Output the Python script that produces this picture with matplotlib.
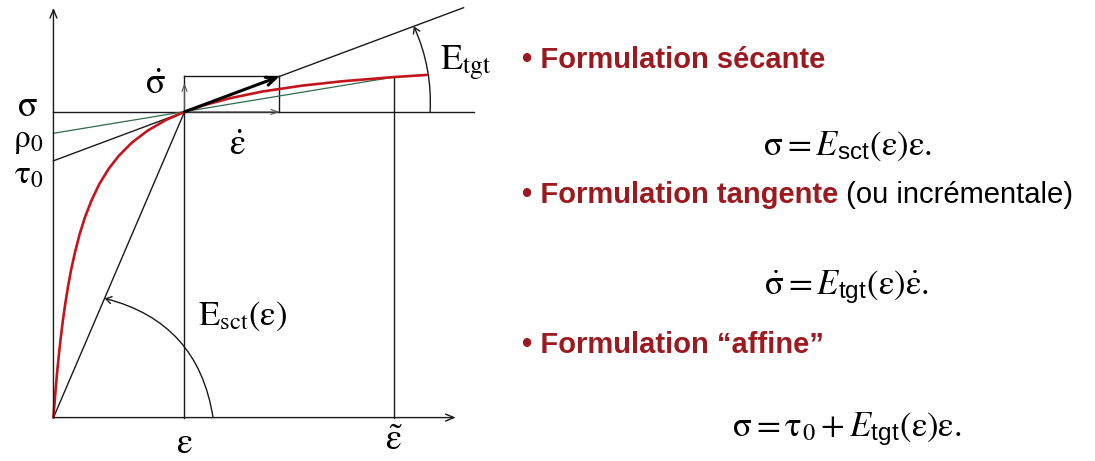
import matplotlib
matplotlib.use("Agg")
import matplotlib.pyplot as plt
from matplotlib.patches import FancyArrowPatch

plt.rcParams["mathtext.fontset"] = "custom"
plt.rcParams["mathtext.rm"] = "STIXGeneral"
plt.rcParams["mathtext.it"] = "STIXGeneral:italic"
plt.rcParams["mathtext.bf"] = "STIXGeneral:bold"
plt.rcParams["mathtext.sf"] = "Liberation Sans"
plt.rcParams["font.family"] = ["Liberation Sans", "DejaVu Sans"]

# Nonlinear stress-strain law, sampled
strain = [0.0, 0.005, 0.012, 0.02, 0.03, 0.042, 0.056, 0.072, 0.09, 0.11,
          0.135, 0.165, 0.20, 0.24, 0.29, 0.35, 0.42, 0.50, 0.60, 0.72, 0.86,
          1.00, 1.15, 1.35, 1.60, 1.90, 2.20, 2.60, 2.85]
stress = [0.0, 0.029, 0.068, 0.109, 0.157, 0.208, 0.262, 0.318, 0.372, 0.426,
          0.484, 0.542, 0.600, 0.655, 0.710, 0.764, 0.813, 0.857, 0.900, 0.939,
          0.974, 1.000, 1.022, 1.045, 1.067, 1.086, 1.100, 1.114, 1.121]

eps_cur, sig_cur = 1.0, 1.0      # current state (eps, sigma)
eps_far, sig_far = 2.60, 1.114   # eps tilde and its stress
tau0 = 0.84                      # intercept of the tangent
rho0 = 0.93                      # intercept of the chord
d_eps = 0.725                    # strain increment
eps_axis_end, sig_axis_end = 3.07, 1.34
tangent_end = 3.13
sigma_line_end = 3.21

titles = ["Formulation sécante", "Formulation tangente", "Formulation \u201caffine\u201d"]
title_notes = ["", " (ou incrémentale)", ""]
formulas = [
    r"$\mathrm{\sigma} = E_{\mathsf{sct}}(\mathrm{\varepsilon})\mathrm{\varepsilon}.$",
    r"$\dot{\mathrm{\sigma}} = E_{\mathsf{tgt}}(\mathrm{\varepsilon})\dot{\mathrm{\varepsilon}}.$",
    r"$\mathrm{\sigma} = \mathrm{\tau}_0 + E_{\mathsf{tgt}}(\mathrm{\varepsilon})\mathrm{\varepsilon}.$",
]

W, H = 1095, 461
fig = plt.figure(figsize=(W / 100, H / 100), dpi=100)
fig.patch.set_facecolor("white")

# ---------------- diagram ----------------
ax = fig.add_axes([0, 0, 500 / W, 1])
ax.set_xlim(-0.408, 3.408)
ax.set_ylim(-0.142, 1.366)
ax.axis("off")

ink = "#1a1a1a"
lw = 1.0
slope_tgt = (sig_cur - tau0) / eps_cur
sig_top = sig_cur + slope_tgt * d_eps

# axes with open arrow heads
for end in [(0, sig_axis_end), (eps_axis_end, 0)]:
    ax.annotate("", xy=end, xytext=(0, 0),
                arrowprops=dict(arrowstyle="->,head_length=0.6,head_width=0.25",
                                lw=lw, color=ink, shrinkA=0, shrinkB=0))

# horizontal line at sigma
ax.plot([0, sigma_line_end], [sig_cur, sig_cur], color=ink, lw=lw)
# vertical at eps, up to rectangle top
ax.plot([eps_cur, eps_cur], [0, sig_top], color=ink, lw=lw)
# rectangle top and right side
ax.plot([eps_cur, eps_cur + d_eps], [sig_top, sig_top], color=ink, lw=lw)
ax.plot([eps_cur + d_eps, eps_cur + d_eps], [sig_cur, sig_top], color=ink, lw=lw)
# vertical at eps tilde
ax.plot([eps_far, eps_far], [0, sig_far], color=ink, lw=lw)
# secant from origin
ax.plot([0, eps_cur], [0, sig_cur], color=ink, lw=lw)
# tangent
ax.plot([0, tangent_end], [tau0, tau0 + slope_tgt * tangent_end], color=ink, lw=lw)
# chord through (eps, sigma) and (eps tilde, sigma tilde)
ax.plot([0, eps_far], [rho0, sig_far], color="#2e6b4a", lw=0.9)
# constitutive curve
ax.plot(strain, stress, color="#c4141c", lw=1.9, solid_capstyle="round",
        solid_joinstyle="round")

# small increment arrows
ax.annotate("", xy=(eps_cur, sig_cur + 0.095), xytext=(eps_cur, sig_cur),
            arrowprops=dict(arrowstyle="->,head_length=0.5,head_width=0.18",
                            lw=0.8, color="#555555", shrinkA=0, shrinkB=0))
ax.annotate("", xy=(eps_cur + d_eps, sig_cur), xytext=(eps_cur, sig_cur),
            arrowprops=dict(arrowstyle="->,head_length=0.5,head_width=0.18",
                            lw=0.8, color="#555555", shrinkA=0, shrinkB=0))
# bold rate arrow along the tangent
ax.annotate("", xy=(eps_cur + d_eps, sig_top), xytext=(eps_cur, sig_cur),
            arrowprops=dict(arrowstyle="->,head_length=0.7,head_width=0.3",
                            lw=2.2, color="black", shrinkA=0, shrinkB=0))

# angle arcs
arc_tgt = FancyArrowPatch((2.875, sig_cur), (2.75, tau0 + slope_tgt * 2.75),
                          connectionstyle="arc3,rad=0.12",
                          arrowstyle="->,head_length=4,head_width=2.5",
                          lw=1.0, color=ink, shrinkA=0, shrinkB=0)
ax.add_patch(arc_tgt)
arc_sct = FancyArrowPatch((1.218, 0), (0.39, 0.39),
                          connectionstyle="arc3,rad=0.33",
                          arrowstyle="->,head_length=4,head_width=2.5",
                          lw=1.0, color=ink, shrinkA=0, shrinkB=0)
ax.add_patch(arc_sct)

lab = dict(fontsize=26, color="black")
ax.text(-0.20, 1.016, r"$\mathrm{\sigma}$", ha="center", va="center", **lab)
ax.text(-0.19, 0.905, r"$\mathrm{\rho}_0$", ha="center", va="center", fontsize=24)
ax.text(-0.19, 0.795, r"$\mathrm{\tau}_0$", ha="center", va="center", fontsize=24)
ax.text(0.775, 1.09, r"$\dot{\mathrm{\sigma}}$", ha="center", va="center", **lab)
ax.text(1.40, 0.89, r"$\dot{\mathrm{\varepsilon}}$", ha="center", va="center", **lab)
ax.text(2.95, 1.16, r"$\mathrm{E}_{\mathrm{tgt}}$", ha="left", va="center", **lab)
ax.text(1.10, 0.33, r"$\mathrm{E}_{\mathrm{sct}}(\mathrm{\varepsilon})$", ha="left",
        va="center", fontsize=25)
ax.text(eps_cur, -0.085, r"$\mathrm{\varepsilon}$", ha="center", va="center", **lab)
ax.text(eps_far, -0.075, r"$\tilde{\mathrm{\varepsilon}}$", ha="center", va="center", **lab)

# ---------------- formulations ----------------
red = "#9c1a1f"
title_y = [60, 195, 345]
formula_pos = [(763, 146), (764, 287), (732, 429)]
fig.canvas.draw()
renderer = fig.canvas.get_renderer()
for t, note, ty in zip(titles, title_notes, title_y):
    txt = fig.text(522 / W, 1 - ty / H, "\u2022 " + t, color=red, fontsize=21,
                   fontweight="bold", ha="left", va="center")
    if note:
        bb = txt.get_window_extent(renderer)
        fig.text(bb.x1 / W, 1 - ty / H, note, color="black", fontsize=21,
                 ha="left", va="center")
for f, (fxp, fyp) in zip(formulas, formula_pos):
    fig.text(fxp / W, 1 - fyp / H, f, fontsize=25, ha="left", va="center")

fig.savefig("out.png", dpi=100, facecolor="white")
